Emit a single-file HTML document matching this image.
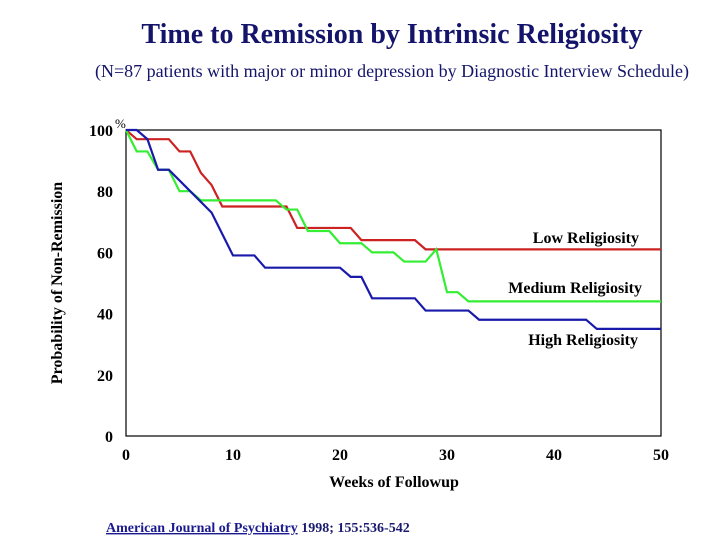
<!DOCTYPE html>
<html><head><meta charset="utf-8"><style>
body{margin:0;background:#fff;width:720px;height:540px;overflow:hidden}
text{font-family:"Liberation Serif",serif}
</style></head><body>
<svg id="chart" width="720" height="540">
<text x="392" y="43" text-anchor="middle" font-size="28" font-weight="bold" fill="#14146a">Time to Remission by Intrinsic Religiosity</text>
<text x="392" y="77" text-anchor="middle" font-size="18" fill="#14146a">(N=87 patients with major or minor depression by Diagnostic Interview Schedule)</text>
<rect x="126" y="130" width="535" height="306" fill="none" stroke="#000" stroke-width="1.2"/>
<text x="115" y="128" font-size="13">%</text>
<text transform="translate(62,283) rotate(-90)" text-anchor="middle" font-size="16" font-weight="bold">Probability of Non-Remission</text>
<text x="394" y="487" text-anchor="middle" font-size="16" font-weight="bold">Weeks of Followup</text>
<g id="ticks"></g>
<g id="lines"></g>
<text x="639" y="243" text-anchor="end" font-size="16" font-weight="bold">Low Religiosity</text>
<text x="642" y="293" text-anchor="end" font-size="16" font-weight="bold">Medium Religiosity</text>
<text x="638" y="345" text-anchor="end" font-size="16" font-weight="bold">High Religiosity</text>
<text x="106" y="532" font-size="14" font-weight="bold"><tspan fill="#1a1a8e" text-decoration="underline">American Journal of Psychiatry</tspan><tspan fill="#1a1a6e"> 1998;  155:536-542</tspan></text>
</svg>
<script>
const xTicks=[0,10,20,30,40,50];
const yTicks=[0,20,40,60,80,100];
const lowWeeks=[0,1,4,5,6,7,8,9,15,16,21,22,27,28,50];
const lowVals=[100,97,97,93,93,86,82,75,75,68,68,64,64,61,61];
const medWeeks=[0,1,2,3,4,5,6,7,14,15,16,17,19,20,22,23,25,26,28,29,30,31,32,50];
const medVals=[100,93,93,87,87,80,80,77,77,74,74,67,67,63,63,60,60,57,57,61,47,47,44,44];
const highWeeks=[0,1,2,3,4,6,8,10,12,13,20,21,22,23,27,28,32,33,43,44,50];
const highVals=[100,100,97,87,87,80,73,59,59,55,55,52,52,45,45,41,41,38,38,35,35];
const NS="http://www.w3.org/2000/svg";
const sx=w=>126+w*10.7, sy=v=>436-v*3.06;
const tg=document.getElementById('ticks');
xTicks.forEach(t=>{const e=document.createElementNS(NS,'text');e.setAttribute('x',sx(t));e.setAttribute('y',460);e.setAttribute('text-anchor','middle');e.setAttribute('font-size','16');e.setAttribute('font-weight','bold');e.textContent=t;


tg.appendChild(e);});
yTicks.forEach(t=>{const e=document.createElementNS(NS,'text');e.setAttribute('x',113);e.setAttribute('y',sy(t)+6);e.setAttribute('text-anchor','end');e.setAttribute('font-size','16');e.setAttribute('font-weight','bold');e.textContent=t;


tg.appendChild(e);});
const lg=document.getElementById('lines');
[[lowWeeks,lowVals,'#cc2222','low-religiosity-line'],[medWeeks,medVals,'#33ee33','medium-religiosity-line'],[highWeeks,highVals,'#1a1aaa','high-religiosity-line']].forEach(([w,v,c,n])=>{
const p=document.createElementNS(NS,'polyline');
p.setAttribute('points',w.map((x,i)=>sx(x)+','+sy(v[i])).join(' '));
p.setAttribute('fill','none');p.setAttribute('stroke',c);p.setAttribute('stroke-width','2.2');


lg.appendChild(p);});
</script>
</body></html>
